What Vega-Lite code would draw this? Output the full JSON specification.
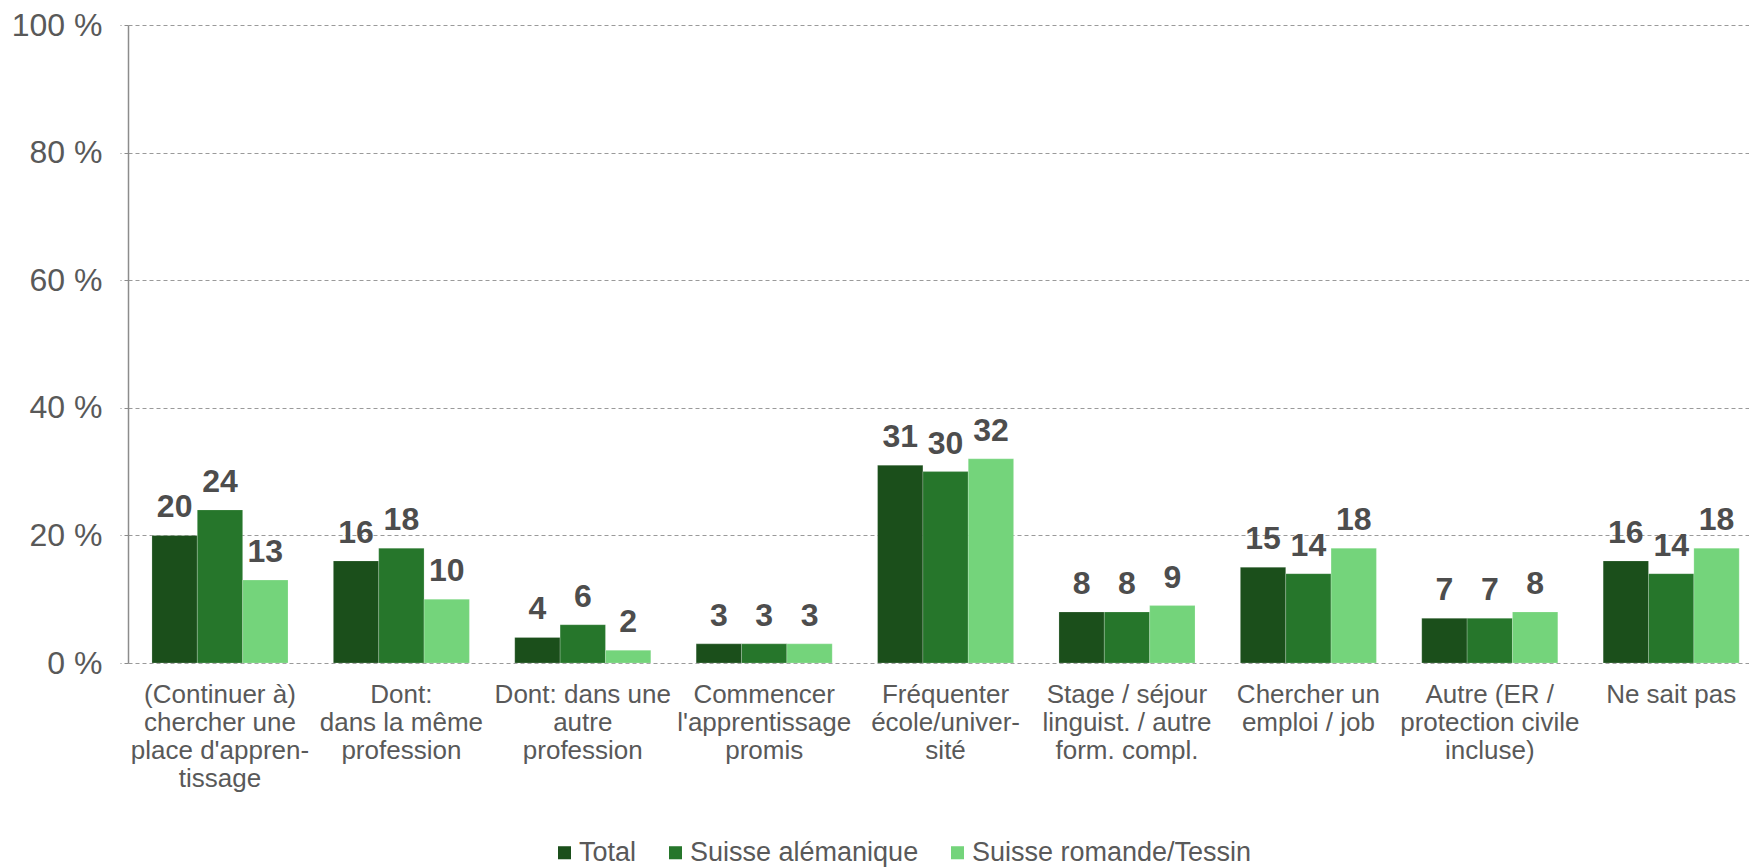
{
  "$schema": "https://vega.github.io/schema/vega-lite/v6.json",
  "width": 1621,
  "height": 638,
  "autosize": {"type": "none"},
  "padding": {"left": 128, "top": 25, "right": 0, "bottom": 205},
  "background": "white",
  "config": {
    "font": "Liberation Sans",
    "view": {"stroke": null}
  },
  "data": {
    "values": [
      {"cat": "(Continuer à)|chercher une|place d'appren-|tissage", "series": "Total", "value": 20},
      {"cat": "(Continuer à)|chercher une|place d'appren-|tissage", "series": "Suisse alémanique", "value": 24},
      {"cat": "(Continuer à)|chercher une|place d'appren-|tissage", "series": "Suisse romande/Tessin", "value": 13},
      {"cat": "Dont:|dans la même|profession", "series": "Total", "value": 16},
      {"cat": "Dont:|dans la même|profession", "series": "Suisse alémanique", "value": 18},
      {"cat": "Dont:|dans la même|profession", "series": "Suisse romande/Tessin", "value": 10},
      {"cat": "Dont: dans une|autre|profession", "series": "Total", "value": 4},
      {"cat": "Dont: dans une|autre|profession", "series": "Suisse alémanique", "value": 6},
      {"cat": "Dont: dans une|autre|profession", "series": "Suisse romande/Tessin", "value": 2},
      {"cat": "Commencer|l'apprentissage|promis", "series": "Total", "value": 3},
      {"cat": "Commencer|l'apprentissage|promis", "series": "Suisse alémanique", "value": 3},
      {"cat": "Commencer|l'apprentissage|promis", "series": "Suisse romande/Tessin", "value": 3},
      {"cat": "Fréquenter|école/univer-|sité", "series": "Total", "value": 31},
      {"cat": "Fréquenter|école/univer-|sité", "series": "Suisse alémanique", "value": 30},
      {"cat": "Fréquenter|école/univer-|sité", "series": "Suisse romande/Tessin", "value": 32},
      {"cat": "Stage / séjour|linguist. / autre|form. compl.", "series": "Total", "value": 8},
      {"cat": "Stage / séjour|linguist. / autre|form. compl.", "series": "Suisse alémanique", "value": 8},
      {"cat": "Stage / séjour|linguist. / autre|form. compl.", "series": "Suisse romande/Tessin", "value": 9},
      {"cat": "Chercher un|emploi / job", "series": "Total", "value": 15},
      {"cat": "Chercher un|emploi / job", "series": "Suisse alémanique", "value": 14},
      {"cat": "Chercher un|emploi / job", "series": "Suisse romande/Tessin", "value": 18},
      {"cat": "Autre (ER /|protection civile|incluse)", "series": "Total", "value": 7},
      {"cat": "Autre (ER /|protection civile|incluse)", "series": "Suisse alémanique", "value": 7},
      {"cat": "Autre (ER /|protection civile|incluse)", "series": "Suisse romande/Tessin", "value": 8},
      {"cat": "Ne sait pas", "series": "Total", "value": 16},
      {"cat": "Ne sait pas", "series": "Suisse alémanique", "value": 14},
      {"cat": "Ne sait pas", "series": "Suisse romande/Tessin", "value": 18}
    ]
  },
  "encoding": {
    "x": {
      "field": "cat",
      "type": "nominal",
      "sort": null,
      "scale": {"paddingInner": 0.25, "paddingOuter": 0.093, "align": 0.71},
      "axis": {
        "title": null,
        "domain": false,
        "ticks": false,
        "labelAngle": 0,
        "labelExpr": "split(datum.label, '|')",
        "labelFontSize": 26,
        "labelLineHeight": 28,
        "labelPadding": 18,
        "labelColor": "#595959",
        "labelLimit": 0,
        "labelOverlap": false,
        "labelBound": false
      }
    },
    "xOffset": {
      "field": "series",
      "type": "nominal",
      "sort": ["Total", "Suisse alémanique", "Suisse romande/Tessin"],
      "scale": {"paddingInner": 0, "paddingOuter": 0}
    },
    "y": {
      "field": "value",
      "type": "quantitative",
      "scale": {"domain": [0, 100], "nice": false},
      "axis": {
        "title": null,
        "values": [0, 20, 40, 60, 80, 100],
        "labelExpr": "datum.value + ' %'",
        "labelFontSize": 32,
        "labelColor": "#595959",
        "labelPadding": 18,
        "grid": true,
        "gridColor": "#9a9a9a",
        "gridDash": [4, 3],
        "gridWidth": 1,
        "tickSize": 8,
        "tickColor": "#8c8c8c",
        "tickDash": [4, 3],
        "domainColor": "#8c8c8c",
        "domainWidth": 1.5
      }
    }
  },
  "layer": [
    {
      "mark": {"type": "bar", "stroke": "#ffffff", "strokeWidth": 0.4, "strokeOpacity": 0.5},
      "encoding": {
        "color": {
          "field": "series",
          "type": "nominal",
          "scale": {
            "domain": ["Total", "Suisse alémanique", "Suisse romande/Tessin"],
            "range": ["#1b4f1b", "#26762b", "#74d47b"]
          },
          "legend": {
            "title": null,
            "orient": "none",
            "direction": "horizontal",
            "legendX": 423,
            "legendY": 814,
            "symbolType": "square",
            "symbolSize": 170,
            "symbolStrokeWidth": 0,
            "symbolOpacity": 1,
            "labelFontSize": 27,
            "labelColor": "#595959",
            "labelOffset": 1,
            "columnPadding": 25,
            "labelLimit": 0
          }
        }
      }
    },
    {
      "mark": {
        "type": "text",
        "fontSize": 32,
        "fontWeight": "bold",
        "color": "#4d4d4d",
        "baseline": "alphabetic",
        "dy": -18
      },
      "encoding": {
        "text": {"field": "value", "type": "quantitative"}
      }
    }
  ]
}
